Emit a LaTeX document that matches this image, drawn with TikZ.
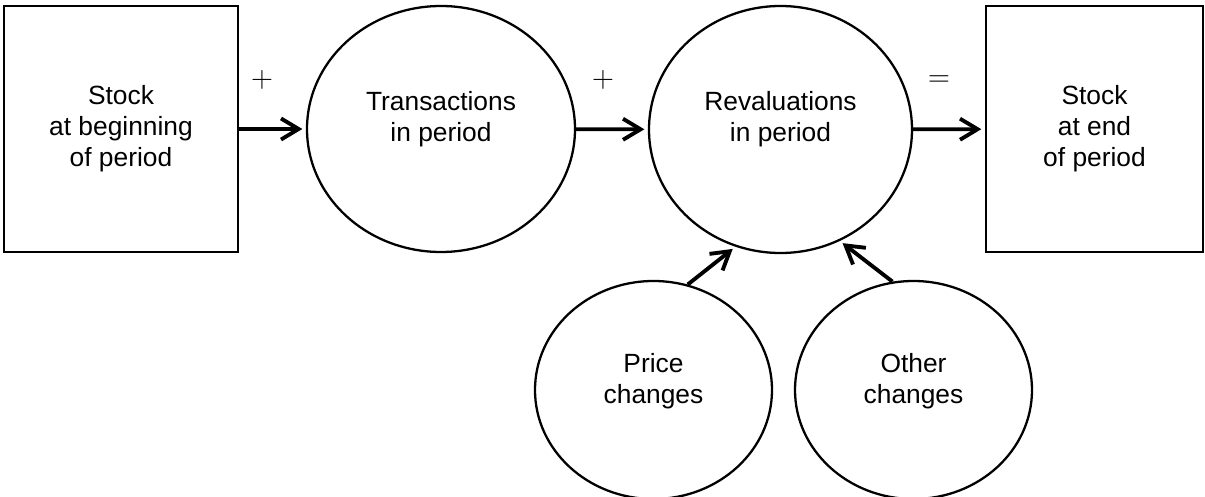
\documentclass[tikz,border=0pt]{standalone}
\usepackage{fontspec}
\setmainfont{Liberation Sans}
\usetikzlibrary{shapes.geometric, arrows.meta}

\begin{document}
\begin{tikzpicture}[x = 0.02cm, y = -0.02cm, > = {Straight Barb[length = 10pt, width = 12pt]},
	every node/.style = {color = black, align = center, font = \fontsize{15}{17.6}\selectfont},
	stockbox/.style = {draw, rectangle, line width = 1.3pt, inner sep = 0pt},
	flowball/.style = {draw, ellipse, line width = 1.3pt, inner sep = 0pt},
	sign/.style = {font = \fontsize{16}{18}\selectfont}]

	% Definition

	\def\P{0.02cm}		% one pixel of the reference picture

	\useasboundingbox (0, 0) rectangle (1205, 497);

	% Stocks

	\node [stockbox, minimum width = 234*\P, minimum height = 246*\P] (open) at (121, 129) {Stock\\at beginning\\of period};
	\node [stockbox, minimum width = 217*\P, minimum height = 246*\P] (close) at (1094.5, 129) {Stock\\at end\\of period};

	% Flows in the period

	\node [flowball, minimum width = 268*\P, minimum height = 246*\P,
		label = {[yshift = 10*\P]center:Transactions\\in period}] (trans) at (441, 129) {};
	\node [flowball, minimum width = 263*\P, minimum height = 247*\P,
		label = {[yshift = 10*\P]center:Revaluations\\in period}] (reval) at (780.5, 129.5) {};

	\node [flowball, minimum width = 237*\P, minimum height = 218*\P,
		label = {[yshift = 9*\P]center:Price\\changes}] (price) at (653.5, 390) {};
	\node [flowball, minimum width = 237*\P, minimum height = 218*\P,
		label = {[yshift = 9*\P]center:Other\\changes}] (other) at (913.5, 390) {};

	% Signs

	\node [sign] (plusA) at (262, 80) {$+$};
	\node [sign] (plusB) at (603, 80) {$+$};
	\node [sign] (equal) at (939, 81) {$=$};

	% Arrows

	\begin{scope}[->, line width = 2.2pt, shorten > = 2pt]

		\draw (open) -- (trans);
		\draw (trans) -- (reval);
		\draw (reval) -- (close);

		\draw (price.72) -- (reval.249);
		\draw (other.101) -- (reval.298);

	\end{scope}

\end{tikzpicture}
\end{document}
